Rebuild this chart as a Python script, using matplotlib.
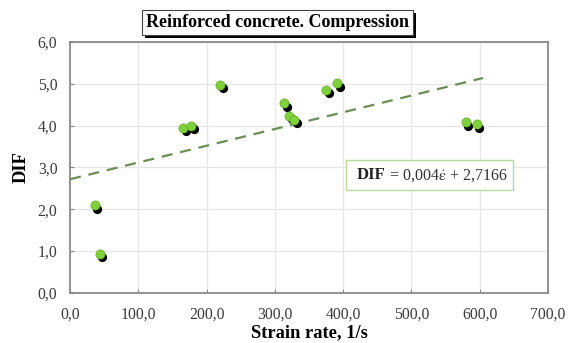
import numpy as np
import matplotlib.pyplot as plt
import matplotlib.transforms as mtransforms
from matplotlib.patches import Rectangle
from matplotlib.ticker import FuncFormatter

# data
strain_rate = [36, 43.5, 166, 177, 219.5, 314, 320.5, 328.5, 375, 391, 579.5, 595.5]
dif = [2.09, 0.93, 3.94, 3.99, 4.98, 4.53, 4.23, 4.14, 4.85, 5.01, 4.08, 4.03]
fit_slope, fit_intercept = 0.004, 2.7166
fit_x = [0, 605]

x_ticks = [0, 100, 200, 300, 400, 500, 600, 700]
y_ticks = [0, 1, 2, 3, 4, 5, 6]

plt.rcParams['font.family'] = ['Liberation Serif', 'DejaVu Serif']
plt.rcParams['mathtext.fontset'] = 'stix'

fig = plt.figure(figsize=(5.69, 3.43), dpi=100)
ax = fig.add_axes([0.123, 0.146, 0.840, 0.732])

# trend line
fx = np.array(fit_x, dtype=float)
ax.plot(fx, fit_slope * fx + fit_intercept, ls=(0, (5, 3.5)), color='#6a8f55', lw=1.6, zorder=3)

# points with black shadow
shadow = mtransforms.offset_copy(ax.transData, fig=fig, x=2.0, y=-2.4, units='points')
ax.scatter(strain_rate, dif, s=44, color='black', transform=shadow, zorder=4, linewidths=0)
ax.scatter(strain_rate, dif, s=44, color='#7ed13a', edgecolors='#5aa020', linewidths=0.4, zorder=5)

ax.set_xlim(0, 700)
ax.set_ylim(0, 6)
ax.set_xticks(x_ticks)
ax.set_yticks(y_ticks)
comma = FuncFormatter(lambda v, p: f'{v:.1f}'.replace('.', ','))
ax.xaxis.set_major_formatter(comma)
ax.yaxis.set_major_formatter(comma)
ax.tick_params(axis='both', direction='in', length=3, color='#888888', labelsize=11.3,
               labelcolor='#3a3a3a')
ax.tick_params(axis='x', pad=10)
ax.tick_params(axis='y', pad=9)
ax.grid(True, color='#e6e6e6', lw=0.9)
ax.set_axisbelow(True)
for s in ax.spines.values():
    s.set_color('#8a8a8a')
    s.set_linewidth(1.3)

ax.set_xlabel('Strain rate, 1/s', fontsize=13.3, fontweight='bold', labelpad=1)
ax.set_ylabel('DIF', fontsize=13.3, fontweight='bold', labelpad=6)

# title box with shadow
fig.patches.append(Rectangle((0.2546, 0.889), 0.4762, 0.073, transform=fig.transFigure,
                             fc='black', ec='none', zorder=0))
fig.patches.append(Rectangle((0.2496, 0.898), 0.4762, 0.073, transform=fig.transFigure,
                             fc='white', ec='#444444', lw=0.8, zorder=1))
fig.text(0.4877, 0.933, 'Reinforced concrete. Compression', ha='center', va='center',
         fontsize=13, fontweight='bold', zorder=2)

# equation box
ax.add_patch(Rectangle((0.577, 0.41), 0.35, 0.12, transform=ax.transAxes,
                       fc='white', ec='#b5d9a0', lw=1.0, zorder=5))
ax.text(0.600, 0.468, 'DIF', transform=ax.transAxes, ha='left', va='center',
        fontsize=12, fontweight='bold', color='#222222', zorder=6)
ax.text(0.668, 0.468, r'= 0,004$\dot{\mathrm{\varepsilon}}$ + 2,7166', transform=ax.transAxes,
        ha='left', va='center', fontsize=11.5, color='#333333', zorder=6)

fig.savefig('out.png', dpi=100)
